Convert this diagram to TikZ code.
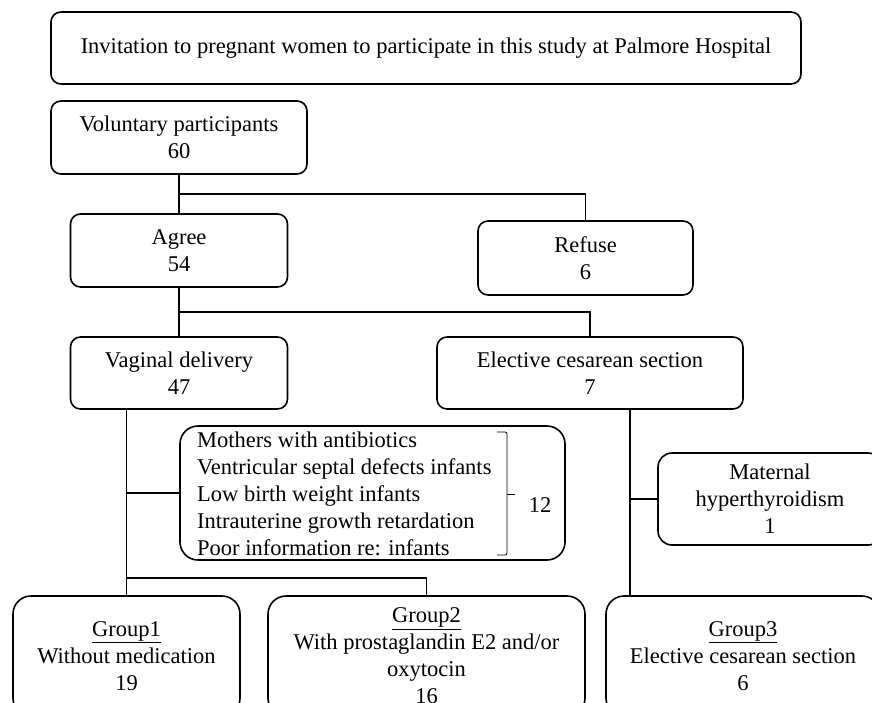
\documentclass[tikz,border=0pt]{standalone}
\usepackage{fontspec}
\setmainfont{Liberation Serif}
\tikzset{
	box/.style={draw, line width=1.6pt, rounded corners=10pt, align=center, inner sep=0pt, font=\fontsize{22.5}{27}\selectfont},
	bigbox/.style={box, rounded corners=18pt},
	link/.style={line width=1.6pt},
	plain/.style={inner sep=0pt, font=\fontsize{22.5}{27}\selectfont},
}
\begin{document}
\begin{tikzpicture}[x=1pt, y=-1pt]
				\useasboundingbox (0,0) rectangle (872,703);
				\clip (0,0) rectangle (872,703);
				
				\node[box, minimum width=750pt, minimum height=72pt] (invite) at (426,48) {Invitation to pregnant women to participate in this study at Palmore Hospital};
				\node[box, minimum width=256pt, minimum height=73pt] (volunteer) at (179,137.5) {Voluntary participants\\60};
				\node[box, minimum width=217pt, minimum height=73pt] (agree) at (179,250.5) {Agree\\54};
				\node[box, minimum width=215pt, minimum height=74pt] (refuse) at (585.5,258) {Refuse\\6};
				\node[box, minimum width=217pt, minimum height=72pt] (vaginal) at (179,373) {Vaginal delivery\\47};
				\node[box, minimum width=306pt, minimum height=72pt] (cesarean) at (590,373) {Elective cesarean section\\7};
				
				\node[bigbox, minimum width=385pt, minimum height=134pt] (excluded) at (372.5,493) {};
				\node[plain, anchor=west, align=left] (reasons) at (197,493.5) {Mothers with antibiotics\\Ventricular septal defects infants\\Low birth weight infants\\Intrauterine growth retardation\\Poor information re: infants};
				\draw[line width=0.8pt, rounded corners=2pt] (497,432) -- (507,432) -- (507,555) -- (497,555);
				\draw[line width=0.8pt] (507,494) -- (515,494);
				\node[plain] (excount) at (540,505) {12};
				
				\node[box, rounded corners=14pt, minimum width=224pt, minimum height=92pt] (thyroid) at (770,499) {Maternal\\hyperthyroidism\\1};
				
				\node[bigbox, minimum width=227pt, minimum height=120pt] (group1) at (126.5,656) {\underline{Group1}\\Without medication\\19};
				\node[bigbox, minimum width=317pt, minimum height=120pt] (group2) at (426.5,656) {\underline{Group2}\\With prostaglandin E2 and/or\\oxytocin\\16};
				\node[bigbox, minimum width=274pt, minimum height=120pt] (group3) at (743,656) {\underline{Group3}\\Elective cesarean section\\6};
				
				\coordinate (split1) at (179,194);
				\coordinate (split2) at (179,312);
				\coordinate (split3) at (126.5,578);
				\coordinate (cesline) at (630,0);
				
				\draw[link] (volunteer.south) -- (agree.north);
				\draw[link] (split1) -| (refuse.north);
				\draw[link] (agree.south) -- (vaginal.north);
				\draw[link] (split2) -| (cesarean.north);
				\draw[link] (group1.north |- vaginal.south) -- (group1.north);
				\draw[link] (group1.north |- excluded.west) -- (excluded.west);
				\draw[link] (split3) -| (group2.north);
				\draw[link] (cesline |- cesarean.south) -- (cesline |- group3.north);
				\draw[link] (cesline |- thyroid.west) -- (thyroid.west);
\end{tikzpicture}
\end{document}
